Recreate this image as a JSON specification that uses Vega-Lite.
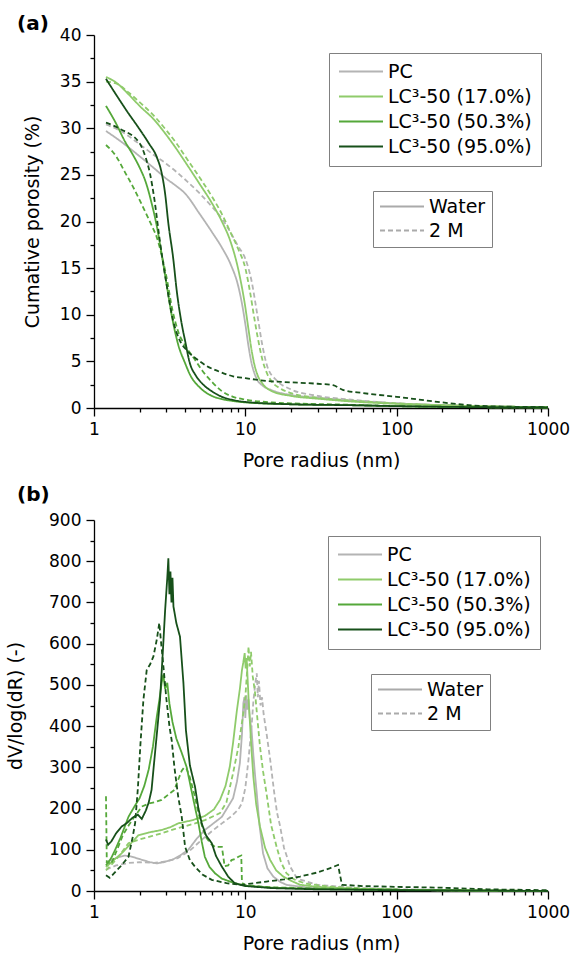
{
"$schema": "https://vega.github.io/schema/vega-lite/v6.json",
"background": "white",
"padding": {"left": 6, "top": 14, "right": 5, "bottom": 0},
"bounds": "flush",
"spacing": 112,
"resolve": {"scale": {"color": "independent", "strokeDash": "independent"}, "legend": {"color": "independent", "strokeDash": "independent"}},
"config": {
 "font": "DejaVu Sans",
 "view": {"stroke": null},
 "axis": {"grid": false, "domainColor": "#000", "tickColor": "#000", "labelColor": "#000", "titleColor": "#000", "labelFont": "DejaVu Sans", "titleFont": "DejaVu Sans", "labelFontSize": 17, "titleFontSize": 19, "titleFontWeight": "normal", "tickSize": 8, "labelPadding": 5, "domainWidth": 1.3, "tickWidth": 1.3, "labelFlush": false, "labelOverlap": false},
 "legend": {"strokeColor": "#808080", "fillColor": "#ffffff", "padding": 9, "labelFont": "DejaVu Sans", "labelFontSize": 19, "labelColor": "#000", "symbolType": "stroke", "symbolSize": 1936, "symbolStrokeWidth": 2, "clipHeight": 19, "rowPadding": 5, "labelOffset": 4, "orient": "none"},
 "title": {"font": "DejaVu Sans", "fontSize": 20, "fontWeight": "bold", "anchor": "start", "frame": "group", "color": "#000"}
},
"datasets": {
"a": [
{"x":1.2,"y":29.7,"m":"PC","c":"Water"},{"x":1.5,"y":28.6,"m":"PC","c":"Water"},{"x":2,"y":27.0,"m":"PC","c":"Water"},{"x":2.5,"y":25.7,"m":"PC","c":"Water"},{"x":3,"y":24.6,"m":"PC","c":"Water"},{"x":3.5,"y":23.8,"m":"PC","c":"Water"},{"x":4,"y":23.0,"m":"PC","c":"Water"},{"x":5,"y":20.8,"m":"PC","c":"Water"},{"x":6,"y":18.9,"m":"PC","c":"Water"},{"x":7,"y":17.2,"m":"PC","c":"Water"},{"x":8,"y":15.4,"m":"PC","c":"Water"},{"x":9,"y":13.0,"m":"PC","c":"Water"},{"x":9.5,"y":11.2,"m":"PC","c":"Water"},{"x":10,"y":9.0,"m":"PC","c":"Water"},{"x":10.5,"y":6.6,"m":"PC","c":"Water"},{"x":11,"y":4.8,"m":"PC","c":"Water"},{"x":11.5,"y":3.7,"m":"PC","c":"Water"},{"x":12,"y":3.0,"m":"PC","c":"Water"},{"x":13,"y":2.4,"m":"PC","c":"Water"},{"x":15,"y":1.9,"m":"PC","c":"Water"},{"x":20,"y":1.4,"m":"PC","c":"Water"},{"x":30,"y":1.1,"m":"PC","c":"Water"},{"x":50,"y":0.8,"m":"PC","c":"Water"},{"x":100,"y":0.5,"m":"PC","c":"Water"},{"x":200,"y":0.3,"m":"PC","c":"Water"},{"x":500,"y":0.15,"m":"PC","c":"Water"},{"x":1000,"y":0.1,"m":"PC","c":"Water"},
{"x":1.2,"y":30.4,"m":"PC","c":"2 M"},{"x":1.5,"y":29.7,"m":"PC","c":"2 M"},{"x":2,"y":28.3,"m":"PC","c":"2 M"},{"x":2.5,"y":27.1,"m":"PC","c":"2 M"},{"x":3,"y":26.2,"m":"PC","c":"2 M"},{"x":4,"y":24.5,"m":"PC","c":"2 M"},{"x":5,"y":23.0,"m":"PC","c":"2 M"},{"x":6,"y":21.6,"m":"PC","c":"2 M"},{"x":7,"y":20.3,"m":"PC","c":"2 M"},{"x":8,"y":18.8,"m":"PC","c":"2 M"},{"x":9,"y":17.3,"m":"PC","c":"2 M"},{"x":10,"y":16.0,"m":"PC","c":"2 M"},{"x":11,"y":13.6,"m":"PC","c":"2 M"},{"x":12,"y":10.0,"m":"PC","c":"2 M"},{"x":13,"y":6.6,"m":"PC","c":"2 M"},{"x":14,"y":4.4,"m":"PC","c":"2 M"},{"x":16,"y":3.0,"m":"PC","c":"2 M"},{"x":20,"y":2.0,"m":"PC","c":"2 M"},{"x":30,"y":1.3,"m":"PC","c":"2 M"},{"x":50,"y":0.9,"m":"PC","c":"2 M"},{"x":100,"y":0.5,"m":"PC","c":"2 M"},{"x":200,"y":0.3,"m":"PC","c":"2 M"},{"x":500,"y":0.15,"m":"PC","c":"2 M"},{"x":1000,"y":0.1,"m":"PC","c":"2 M"},
{"x":1.2,"y":35.5,"m":"LC³-50 (17.0%)","c":"Water"},{"x":1.4,"y":34.9,"m":"LC³-50 (17.0%)","c":"Water"},{"x":1.7,"y":33.6,"m":"LC³-50 (17.0%)","c":"Water"},{"x":2,"y":32.4,"m":"LC³-50 (17.0%)","c":"Water"},{"x":2.5,"y":30.9,"m":"LC³-50 (17.0%)","c":"Water"},{"x":3,"y":29.3,"m":"LC³-50 (17.0%)","c":"Water"},{"x":3.5,"y":27.8,"m":"LC³-50 (17.0%)","c":"Water"},{"x":4,"y":26.4,"m":"LC³-50 (17.0%)","c":"Water"},{"x":5,"y":24.0,"m":"LC³-50 (17.0%)","c":"Water"},{"x":6,"y":22.0,"m":"LC³-50 (17.0%)","c":"Water"},{"x":7,"y":20.0,"m":"LC³-50 (17.0%)","c":"Water"},{"x":8,"y":17.8,"m":"LC³-50 (17.0%)","c":"Water"},{"x":9,"y":14.8,"m":"LC³-50 (17.0%)","c":"Water"},{"x":10,"y":10.8,"m":"LC³-50 (17.0%)","c":"Water"},{"x":10.5,"y":8.4,"m":"LC³-50 (17.0%)","c":"Water"},{"x":11,"y":6.2,"m":"LC³-50 (17.0%)","c":"Water"},{"x":11.5,"y":4.6,"m":"LC³-50 (17.0%)","c":"Water"},{"x":12,"y":3.6,"m":"LC³-50 (17.0%)","c":"Water"},{"x":13,"y":2.6,"m":"LC³-50 (17.0%)","c":"Water"},{"x":15,"y":1.8,"m":"LC³-50 (17.0%)","c":"Water"},{"x":20,"y":1.3,"m":"LC³-50 (17.0%)","c":"Water"},{"x":30,"y":1.0,"m":"LC³-50 (17.0%)","c":"Water"},{"x":50,"y":0.7,"m":"LC³-50 (17.0%)","c":"Water"},{"x":100,"y":0.45,"m":"LC³-50 (17.0%)","c":"Water"},{"x":200,"y":0.3,"m":"LC³-50 (17.0%)","c":"Water"},{"x":500,"y":0.15,"m":"LC³-50 (17.0%)","c":"Water"},{"x":1000,"y":0.1,"m":"LC³-50 (17.0%)","c":"Water"},
{"x":1.2,"y":35.0,"m":"LC³-50 (17.0%)","c":"2 M"},{"x":1.4,"y":34.8,"m":"LC³-50 (17.0%)","c":"2 M"},{"x":1.7,"y":33.8,"m":"LC³-50 (17.0%)","c":"2 M"},{"x":2,"y":32.8,"m":"LC³-50 (17.0%)","c":"2 M"},{"x":2.5,"y":31.3,"m":"LC³-50 (17.0%)","c":"2 M"},{"x":3,"y":29.8,"m":"LC³-50 (17.0%)","c":"2 M"},{"x":3.5,"y":28.4,"m":"LC³-50 (17.0%)","c":"2 M"},{"x":4,"y":27.0,"m":"LC³-50 (17.0%)","c":"2 M"},{"x":5,"y":24.7,"m":"LC³-50 (17.0%)","c":"2 M"},{"x":6,"y":22.7,"m":"LC³-50 (17.0%)","c":"2 M"},{"x":7,"y":20.8,"m":"LC³-50 (17.0%)","c":"2 M"},{"x":8,"y":18.8,"m":"LC³-50 (17.0%)","c":"2 M"},{"x":9,"y":17.0,"m":"LC³-50 (17.0%)","c":"2 M"},{"x":10,"y":15.0,"m":"LC³-50 (17.0%)","c":"2 M"},{"x":10.7,"y":12.6,"m":"LC³-50 (17.0%)","c":"2 M"},{"x":11.5,"y":9.5,"m":"LC³-50 (17.0%)","c":"2 M"},{"x":12,"y":7.8,"m":"LC³-50 (17.0%)","c":"2 M"},{"x":13,"y":5.1,"m":"LC³-50 (17.0%)","c":"2 M"},{"x":14,"y":3.6,"m":"LC³-50 (17.0%)","c":"2 M"},{"x":15,"y":2.8,"m":"LC³-50 (17.0%)","c":"2 M"},{"x":17,"y":2.1,"m":"LC³-50 (17.0%)","c":"2 M"},{"x":20,"y":1.6,"m":"LC³-50 (17.0%)","c":"2 M"},{"x":30,"y":1.1,"m":"LC³-50 (17.0%)","c":"2 M"},{"x":50,"y":0.8,"m":"LC³-50 (17.0%)","c":"2 M"},{"x":100,"y":0.5,"m":"LC³-50 (17.0%)","c":"2 M"},{"x":200,"y":0.3,"m":"LC³-50 (17.0%)","c":"2 M"},{"x":500,"y":0.15,"m":"LC³-50 (17.0%)","c":"2 M"},{"x":1000,"y":0.1,"m":"LC³-50 (17.0%)","c":"2 M"},
{"x":1.2,"y":32.4,"m":"LC³-50 (50.3%)","c":"Water"},{"x":1.4,"y":30.5,"m":"LC³-50 (50.3%)","c":"Water"},{"x":1.6,"y":28.6,"m":"LC³-50 (50.3%)","c":"Water"},{"x":1.8,"y":27.2,"m":"LC³-50 (50.3%)","c":"Water"},{"x":2,"y":25.8,"m":"LC³-50 (50.3%)","c":"Water"},{"x":2.2,"y":24.2,"m":"LC³-50 (50.3%)","c":"Water"},{"x":2.4,"y":22.0,"m":"LC³-50 (50.3%)","c":"Water"},{"x":2.6,"y":19.5,"m":"LC³-50 (50.3%)","c":"Water"},{"x":2.8,"y":16.5,"m":"LC³-50 (50.3%)","c":"Water"},{"x":3,"y":13.5,"m":"LC³-50 (50.3%)","c":"Water"},{"x":3.3,"y":9.5,"m":"LC³-50 (50.3%)","c":"Water"},{"x":3.6,"y":6.8,"m":"LC³-50 (50.3%)","c":"Water"},{"x":4,"y":4.8,"m":"LC³-50 (50.3%)","c":"Water"},{"x":4.3,"y":3.6,"m":"LC³-50 (50.3%)","c":"Water"},{"x":5,"y":2.2,"m":"LC³-50 (50.3%)","c":"Water"},{"x":6,"y":1.3,"m":"LC³-50 (50.3%)","c":"Water"},{"x":7,"y":0.95,"m":"LC³-50 (50.3%)","c":"Water"},{"x":8.3,"y":0.75,"m":"LC³-50 (50.3%)","c":"Water"},{"x":10,"y":0.6,"m":"LC³-50 (50.3%)","c":"Water"},{"x":20,"y":0.4,"m":"LC³-50 (50.3%)","c":"Water"},{"x":50,"y":0.3,"m":"LC³-50 (50.3%)","c":"Water"},{"x":100,"y":0.2,"m":"LC³-50 (50.3%)","c":"Water"},{"x":300,"y":0.1,"m":"LC³-50 (50.3%)","c":"Water"},{"x":1000,"y":0.05,"m":"LC³-50 (50.3%)","c":"Water"},
{"x":1.2,"y":28.2,"m":"LC³-50 (50.3%)","c":"2 M"},{"x":1.4,"y":27.0,"m":"LC³-50 (50.3%)","c":"2 M"},{"x":1.6,"y":25.3,"m":"LC³-50 (50.3%)","c":"2 M"},{"x":1.8,"y":23.8,"m":"LC³-50 (50.3%)","c":"2 M"},{"x":2.1,"y":21.6,"m":"LC³-50 (50.3%)","c":"2 M"},{"x":2.4,"y":19.6,"m":"LC³-50 (50.3%)","c":"2 M"},{"x":2.6,"y":18.3,"m":"LC³-50 (50.3%)","c":"2 M"},{"x":2.8,"y":16.4,"m":"LC³-50 (50.3%)","c":"2 M"},{"x":3,"y":14.2,"m":"LC³-50 (50.3%)","c":"2 M"},{"x":3.3,"y":10.5,"m":"LC³-50 (50.3%)","c":"2 M"},{"x":3.6,"y":8.2,"m":"LC³-50 (50.3%)","c":"2 M"},{"x":4,"y":6.7,"m":"LC³-50 (50.3%)","c":"2 M"},{"x":4.5,"y":5.5,"m":"LC³-50 (50.3%)","c":"2 M"},{"x":5.2,"y":4.0,"m":"LC³-50 (50.3%)","c":"2 M"},{"x":6.1,"y":2.7,"m":"LC³-50 (50.3%)","c":"2 M"},{"x":7,"y":1.8,"m":"LC³-50 (50.3%)","c":"2 M"},{"x":8.3,"y":1.2,"m":"LC³-50 (50.3%)","c":"2 M"},{"x":10,"y":0.9,"m":"LC³-50 (50.3%)","c":"2 M"},{"x":15,"y":0.6,"m":"LC³-50 (50.3%)","c":"2 M"},{"x":20,"y":0.5,"m":"LC³-50 (50.3%)","c":"2 M"},{"x":50,"y":0.35,"m":"LC³-50 (50.3%)","c":"2 M"},{"x":100,"y":0.2,"m":"LC³-50 (50.3%)","c":"2 M"},{"x":300,"y":0.1,"m":"LC³-50 (50.3%)","c":"2 M"},{"x":1000,"y":0.05,"m":"LC³-50 (50.3%)","c":"2 M"},
{"x":1.2,"y":35.3,"m":"LC³-50 (95.0%)","c":"Water"},{"x":1.4,"y":33.6,"m":"LC³-50 (95.0%)","c":"Water"},{"x":1.64,"y":31.9,"m":"LC³-50 (95.0%)","c":"Water"},{"x":2,"y":29.9,"m":"LC³-50 (95.0%)","c":"Water"},{"x":2.3,"y":28.4,"m":"LC³-50 (95.0%)","c":"Water"},{"x":2.6,"y":26.9,"m":"LC³-50 (95.0%)","c":"Water"},{"x":2.8,"y":25.2,"m":"LC³-50 (95.0%)","c":"Water"},{"x":2.95,"y":23.0,"m":"LC³-50 (95.0%)","c":"Water"},{"x":3.1,"y":19.8,"m":"LC³-50 (95.0%)","c":"Water"},{"x":3.34,"y":16.0,"m":"LC³-50 (95.0%)","c":"Water"},{"x":3.52,"y":12.6,"m":"LC³-50 (95.0%)","c":"Water"},{"x":3.8,"y":9.0,"m":"LC³-50 (95.0%)","c":"Water"},{"x":4.0,"y":7.2,"m":"LC³-50 (95.0%)","c":"Water"},{"x":4.3,"y":4.8,"m":"LC³-50 (95.0%)","c":"Water"},{"x":4.7,"y":3.5,"m":"LC³-50 (95.0%)","c":"Water"},{"x":5.2,"y":2.6,"m":"LC³-50 (95.0%)","c":"Water"},{"x":6,"y":1.8,"m":"LC³-50 (95.0%)","c":"Water"},{"x":7,"y":1.2,"m":"LC³-50 (95.0%)","c":"Water"},{"x":8.3,"y":0.86,"m":"LC³-50 (95.0%)","c":"Water"},{"x":10,"y":0.65,"m":"LC³-50 (95.0%)","c":"Water"},{"x":20,"y":0.4,"m":"LC³-50 (95.0%)","c":"Water"},{"x":50,"y":0.3,"m":"LC³-50 (95.0%)","c":"Water"},{"x":100,"y":0.2,"m":"LC³-50 (95.0%)","c":"Water"},{"x":300,"y":0.1,"m":"LC³-50 (95.0%)","c":"Water"},{"x":1000,"y":0.05,"m":"LC³-50 (95.0%)","c":"Water"},
{"x":1.2,"y":30.6,"m":"LC³-50 (95.0%)","c":"2 M"},{"x":1.5,"y":29.9,"m":"LC³-50 (95.0%)","c":"2 M"},{"x":2,"y":28.4,"m":"LC³-50 (95.0%)","c":"2 M"},{"x":2.2,"y":26.8,"m":"LC³-50 (95.0%)","c":"2 M"},{"x":2.34,"y":25.2,"m":"LC³-50 (95.0%)","c":"2 M"},{"x":2.5,"y":22.5,"m":"LC³-50 (95.0%)","c":"2 M"},{"x":2.73,"y":17.8,"m":"LC³-50 (95.0%)","c":"2 M"},{"x":3,"y":13.5,"m":"LC³-50 (95.0%)","c":"2 M"},{"x":3.33,"y":9.4,"m":"LC³-50 (95.0%)","c":"2 M"},{"x":3.7,"y":7.2,"m":"LC³-50 (95.0%)","c":"2 M"},{"x":4.1,"y":6.2,"m":"LC³-50 (95.0%)","c":"2 M"},{"x":5,"y":5.0,"m":"LC³-50 (95.0%)","c":"2 M"},{"x":5.55,"y":4.5,"m":"LC³-50 (95.0%)","c":"2 M"},{"x":6.5,"y":4.0,"m":"LC³-50 (95.0%)","c":"2 M"},{"x":8.3,"y":3.4,"m":"LC³-50 (95.0%)","c":"2 M"},{"x":10,"y":3.2,"m":"LC³-50 (95.0%)","c":"2 M"},{"x":13.8,"y":2.9,"m":"LC³-50 (95.0%)","c":"2 M"},{"x":20,"y":2.75,"m":"LC³-50 (95.0%)","c":"2 M"},{"x":30,"y":2.6,"m":"LC³-50 (95.0%)","c":"2 M"},{"x":38,"y":2.45,"m":"LC³-50 (95.0%)","c":"2 M"},{"x":44,"y":1.95,"m":"LC³-50 (95.0%)","c":"2 M"},{"x":60,"y":1.6,"m":"LC³-50 (95.0%)","c":"2 M"},{"x":100,"y":1.2,"m":"LC³-50 (95.0%)","c":"2 M"},{"x":200,"y":0.6,"m":"LC³-50 (95.0%)","c":"2 M"},{"x":300,"y":0.3,"m":"LC³-50 (95.0%)","c":"2 M"},{"x":500,"y":0.15,"m":"LC³-50 (95.0%)","c":"2 M"},{"x":1000,"y":0.1,"m":"LC³-50 (95.0%)","c":"2 M"}
],
"b": [
{"x":1.2,"y":68,"m":"PC","c":"Water"},{"x":1.3,"y":75,"m":"PC","c":"Water"},{"x":1.45,"y":82,"m":"PC","c":"Water"},{"x":1.6,"y":86,"m":"PC","c":"Water"},{"x":1.75,"y":84,"m":"PC","c":"Water"},{"x":1.9,"y":80,"m":"PC","c":"Water"},{"x":2.1,"y":75,"m":"PC","c":"Water"},{"x":2.34,"y":70,"m":"PC","c":"Water"},{"x":2.6,"y":67,"m":"PC","c":"Water"},{"x":2.9,"y":70,"m":"PC","c":"Water"},{"x":3.3,"y":76,"m":"PC","c":"Water"},{"x":3.7,"y":86,"m":"PC","c":"Water"},{"x":4.2,"y":100,"m":"PC","c":"Water"},{"x":4.8,"y":128,"m":"PC","c":"Water"},{"x":5.4,"y":148,"m":"PC","c":"Water"},{"x":6.2,"y":165,"m":"PC","c":"Water"},{"x":7,"y":180,"m":"PC","c":"Water"},{"x":7.7,"y":205,"m":"PC","c":"Water"},{"x":8.3,"y":225,"m":"PC","c":"Water"},{"x":8.8,"y":265,"m":"PC","c":"Water"},{"x":9.2,"y":310,"m":"PC","c":"Water"},{"x":9.5,"y":380,"m":"PC","c":"Water"},{"x":9.7,"y":455,"m":"PC","c":"Water"},{"x":9.85,"y":470,"m":"PC","c":"Water"},{"x":10.0,"y":420,"m":"PC","c":"Water"},{"x":10.15,"y":475,"m":"PC","c":"Water"},{"x":10.3,"y":440,"m":"PC","c":"Water"},{"x":10.5,"y":465,"m":"PC","c":"Water"},{"x":10.7,"y":420,"m":"PC","c":"Water"},{"x":11.0,"y":390,"m":"PC","c":"Water"},{"x":11.3,"y":330,"m":"PC","c":"Water"},{"x":11.6,"y":280,"m":"PC","c":"Water"},{"x":11.9,"y":237,"m":"PC","c":"Water"},{"x":12.4,"y":160,"m":"PC","c":"Water"},{"x":13.1,"y":91,"m":"PC","c":"Water"},{"x":14,"y":55,"m":"PC","c":"Water"},{"x":15.3,"y":35,"m":"PC","c":"Water"},{"x":17,"y":22,"m":"PC","c":"Water"},{"x":18.7,"y":15,"m":"PC","c":"Water"},{"x":25,"y":9,"m":"PC","c":"Water"},{"x":40,"y":6,"m":"PC","c":"Water"},{"x":70,"y":4,"m":"PC","c":"Water"},{"x":150,"y":2,"m":"PC","c":"Water"},{"x":400,"y":1,"m":"PC","c":"Water"},{"x":1000,"y":0,"m":"PC","c":"Water"},
{"x":1.2,"y":52,"m":"PC","c":"2 M"},{"x":1.4,"y":62,"m":"PC","c":"2 M"},{"x":1.7,"y":68,"m":"PC","c":"2 M"},{"x":2,"y":70,"m":"PC","c":"2 M"},{"x":2.5,"y":68,"m":"PC","c":"2 M"},{"x":3,"y":72,"m":"PC","c":"2 M"},{"x":3.6,"y":80,"m":"PC","c":"2 M"},{"x":4.3,"y":98,"m":"PC","c":"2 M"},{"x":5.15,"y":124,"m":"PC","c":"2 M"},{"x":6,"y":145,"m":"PC","c":"2 M"},{"x":7,"y":164,"m":"PC","c":"2 M"},{"x":8,"y":180,"m":"PC","c":"2 M"},{"x":9,"y":198,"m":"PC","c":"2 M"},{"x":9.5,"y":213,"m":"PC","c":"2 M"},{"x":10,"y":250,"m":"PC","c":"2 M"},{"x":10.5,"y":320,"m":"PC","c":"2 M"},{"x":11,"y":400,"m":"PC","c":"2 M"},{"x":11.3,"y":460,"m":"PC","c":"2 M"},{"x":11.6,"y":500,"m":"PC","c":"2 M"},{"x":11.9,"y":528,"m":"PC","c":"2 M"},{"x":12.1,"y":470,"m":"PC","c":"2 M"},{"x":12.3,"y":510,"m":"PC","c":"2 M"},{"x":12.6,"y":450,"m":"PC","c":"2 M"},{"x":12.9,"y":470,"m":"PC","c":"2 M"},{"x":13.2,"y":430,"m":"PC","c":"2 M"},{"x":13.8,"y":383,"m":"PC","c":"2 M"},{"x":14.6,"y":318,"m":"PC","c":"2 M"},{"x":15.5,"y":240,"m":"PC","c":"2 M"},{"x":16.2,"y":190,"m":"PC","c":"2 M"},{"x":17,"y":156,"m":"PC","c":"2 M"},{"x":18,"y":105,"m":"PC","c":"2 M"},{"x":19.8,"y":59,"m":"PC","c":"2 M"},{"x":22,"y":30,"m":"PC","c":"2 M"},{"x":30,"y":15,"m":"PC","c":"2 M"},{"x":50,"y":8,"m":"PC","c":"2 M"},{"x":100,"y":4,"m":"PC","c":"2 M"},{"x":300,"y":2,"m":"PC","c":"2 M"},{"x":1000,"y":0,"m":"PC","c":"2 M"},
{"x":1.2,"y":58,"m":"LC³-50 (17.0%)","c":"Water"},{"x":1.35,"y":75,"m":"LC³-50 (17.0%)","c":"Water"},{"x":1.52,"y":91,"m":"LC³-50 (17.0%)","c":"Water"},{"x":1.7,"y":110,"m":"LC³-50 (17.0%)","c":"Water"},{"x":1.96,"y":135,"m":"LC³-50 (17.0%)","c":"Water"},{"x":2.3,"y":142,"m":"LC³-50 (17.0%)","c":"Water"},{"x":2.8,"y":148,"m":"LC³-50 (17.0%)","c":"Water"},{"x":3.2,"y":155,"m":"LC³-50 (17.0%)","c":"Water"},{"x":3.6,"y":164,"m":"LC³-50 (17.0%)","c":"Water"},{"x":4.5,"y":172,"m":"LC³-50 (17.0%)","c":"Water"},{"x":5.4,"y":182,"m":"LC³-50 (17.0%)","c":"Water"},{"x":6.2,"y":198,"m":"LC³-50 (17.0%)","c":"Water"},{"x":6.8,"y":221,"m":"LC³-50 (17.0%)","c":"Water"},{"x":7.4,"y":255,"m":"LC³-50 (17.0%)","c":"Water"},{"x":7.9,"y":302,"m":"LC³-50 (17.0%)","c":"Water"},{"x":8.3,"y":360,"m":"LC³-50 (17.0%)","c":"Water"},{"x":8.8,"y":439,"m":"LC³-50 (17.0%)","c":"Water"},{"x":9.2,"y":490,"m":"LC³-50 (17.0%)","c":"Water"},{"x":9.5,"y":536,"m":"LC³-50 (17.0%)","c":"Water"},{"x":9.7,"y":555,"m":"LC³-50 (17.0%)","c":"Water"},{"x":9.9,"y":577,"m":"LC³-50 (17.0%)","c":"Water"},{"x":10.05,"y":540,"m":"LC³-50 (17.0%)","c":"Water"},{"x":10.2,"y":565,"m":"LC³-50 (17.0%)","c":"Water"},{"x":10.4,"y":500,"m":"LC³-50 (17.0%)","c":"Water"},{"x":10.6,"y":440,"m":"LC³-50 (17.0%)","c":"Water"},{"x":11.0,"y":340,"m":"LC³-50 (17.0%)","c":"Water"},{"x":11.3,"y":277,"m":"LC³-50 (17.0%)","c":"Water"},{"x":11.8,"y":210,"m":"LC³-50 (17.0%)","c":"Water"},{"x":12.5,"y":156,"m":"LC³-50 (17.0%)","c":"Water"},{"x":13.5,"y":105,"m":"LC³-50 (17.0%)","c":"Water"},{"x":14.6,"y":75,"m":"LC³-50 (17.0%)","c":"Water"},{"x":16,"y":50,"m":"LC³-50 (17.0%)","c":"Water"},{"x":17.8,"y":35,"m":"LC³-50 (17.0%)","c":"Water"},{"x":20,"y":25,"m":"LC³-50 (17.0%)","c":"Water"},{"x":23,"y":15,"m":"LC³-50 (17.0%)","c":"Water"},{"x":30,"y":10,"m":"LC³-50 (17.0%)","c":"Water"},{"x":50,"y":6,"m":"LC³-50 (17.0%)","c":"Water"},{"x":100,"y":3,"m":"LC³-50 (17.0%)","c":"Water"},{"x":300,"y":1.5,"m":"LC³-50 (17.0%)","c":"Water"},{"x":1000,"y":0,"m":"LC³-50 (17.0%)","c":"Water"},
{"x":1.2,"y":50,"m":"LC³-50 (17.0%)","c":"2 M"},{"x":1.35,"y":70,"m":"LC³-50 (17.0%)","c":"2 M"},{"x":1.5,"y":90,"m":"LC³-50 (17.0%)","c":"2 M"},{"x":1.69,"y":116,"m":"LC³-50 (17.0%)","c":"2 M"},{"x":2,"y":125,"m":"LC³-50 (17.0%)","c":"2 M"},{"x":2.4,"y":133,"m":"LC³-50 (17.0%)","c":"2 M"},{"x":2.8,"y":140,"m":"LC³-50 (17.0%)","c":"2 M"},{"x":3.4,"y":150,"m":"LC³-50 (17.0%)","c":"2 M"},{"x":4,"y":157,"m":"LC³-50 (17.0%)","c":"2 M"},{"x":4.65,"y":164,"m":"LC³-50 (17.0%)","c":"2 M"},{"x":5.4,"y":172,"m":"LC³-50 (17.0%)","c":"2 M"},{"x":6.2,"y":182,"m":"LC³-50 (17.0%)","c":"2 M"},{"x":6.8,"y":189,"m":"LC³-50 (17.0%)","c":"2 M"},{"x":7.5,"y":215,"m":"LC³-50 (17.0%)","c":"2 M"},{"x":8.3,"y":286,"m":"LC³-50 (17.0%)","c":"2 M"},{"x":9,"y":350,"m":"LC³-50 (17.0%)","c":"2 M"},{"x":9.6,"y":420,"m":"LC³-50 (17.0%)","c":"2 M"},{"x":10.0,"y":470,"m":"LC³-50 (17.0%)","c":"2 M"},{"x":10.3,"y":540,"m":"LC³-50 (17.0%)","c":"2 M"},{"x":10.5,"y":593,"m":"LC³-50 (17.0%)","c":"2 M"},{"x":10.7,"y":545,"m":"LC³-50 (17.0%)","c":"2 M"},{"x":10.9,"y":580,"m":"LC³-50 (17.0%)","c":"2 M"},{"x":11.2,"y":520,"m":"LC³-50 (17.0%)","c":"2 M"},{"x":11.6,"y":480,"m":"LC³-50 (17.0%)","c":"2 M"},{"x":12,"y":420,"m":"LC³-50 (17.0%)","c":"2 M"},{"x":12.5,"y":350,"m":"LC³-50 (17.0%)","c":"2 M"},{"x":13.1,"y":290,"m":"LC³-50 (17.0%)","c":"2 M"},{"x":13.8,"y":237,"m":"LC³-50 (17.0%)","c":"2 M"},{"x":14.8,"y":160,"m":"LC³-50 (17.0%)","c":"2 M"},{"x":16.1,"y":107,"m":"LC³-50 (17.0%)","c":"2 M"},{"x":17.2,"y":70,"m":"LC³-50 (17.0%)","c":"2 M"},{"x":18.7,"y":43,"m":"LC³-50 (17.0%)","c":"2 M"},{"x":21,"y":28,"m":"LC³-50 (17.0%)","c":"2 M"},{"x":25,"y":18,"m":"LC³-50 (17.0%)","c":"2 M"},{"x":35,"y":11,"m":"LC³-50 (17.0%)","c":"2 M"},{"x":60,"y":6,"m":"LC³-50 (17.0%)","c":"2 M"},{"x":100,"y":3,"m":"LC³-50 (17.0%)","c":"2 M"},{"x":300,"y":1.5,"m":"LC³-50 (17.0%)","c":"2 M"},{"x":1000,"y":0,"m":"LC³-50 (17.0%)","c":"2 M"},
{"x":1.2,"y":62,"m":"LC³-50 (50.3%)","c":"Water"},{"x":1.3,"y":80,"m":"LC³-50 (50.3%)","c":"Water"},{"x":1.38,"y":100,"m":"LC³-50 (50.3%)","c":"Water"},{"x":1.5,"y":130,"m":"LC³-50 (50.3%)","c":"Water"},{"x":1.69,"y":180,"m":"LC³-50 (50.3%)","c":"Water"},{"x":1.85,"y":205,"m":"LC³-50 (50.3%)","c":"Water"},{"x":2.0,"y":225,"m":"LC³-50 (50.3%)","c":"Water"},{"x":2.15,"y":255,"m":"LC³-50 (50.3%)","c":"Water"},{"x":2.3,"y":295,"m":"LC³-50 (50.3%)","c":"Water"},{"x":2.45,"y":350,"m":"LC³-50 (50.3%)","c":"Water"},{"x":2.6,"y":423,"m":"LC³-50 (50.3%)","c":"Water"},{"x":2.72,"y":470,"m":"LC³-50 (50.3%)","c":"Water"},{"x":2.8,"y":505,"m":"LC³-50 (50.3%)","c":"Water"},{"x":2.87,"y":525,"m":"LC³-50 (50.3%)","c":"Water"},{"x":2.95,"y":490,"m":"LC³-50 (50.3%)","c":"Water"},{"x":3.05,"y":505,"m":"LC³-50 (50.3%)","c":"Water"},{"x":3.15,"y":455,"m":"LC³-50 (50.3%)","c":"Water"},{"x":3.3,"y":410,"m":"LC³-50 (50.3%)","c":"Water"},{"x":3.5,"y":370,"m":"LC³-50 (50.3%)","c":"Water"},{"x":3.8,"y":335,"m":"LC³-50 (50.3%)","c":"Water"},{"x":4.1,"y":300,"m":"LC³-50 (50.3%)","c":"Water"},{"x":4.4,"y":245,"m":"LC³-50 (50.3%)","c":"Water"},{"x":4.7,"y":195,"m":"LC³-50 (50.3%)","c":"Water"},{"x":4.9,"y":164,"m":"LC³-50 (50.3%)","c":"Water"},{"x":5.15,"y":120,"m":"LC³-50 (50.3%)","c":"Water"},{"x":5.4,"y":83,"m":"LC³-50 (50.3%)","c":"Water"},{"x":5.8,"y":58,"m":"LC³-50 (50.3%)","c":"Water"},{"x":6.3,"y":43,"m":"LC³-50 (50.3%)","c":"Water"},{"x":7,"y":30,"m":"LC³-50 (50.3%)","c":"Water"},{"x":8.5,"y":19,"m":"LC³-50 (50.3%)","c":"Water"},{"x":10,"y":13,"m":"LC³-50 (50.3%)","c":"Water"},{"x":15,"y":8,"m":"LC³-50 (50.3%)","c":"Water"},{"x":30,"y":5,"m":"LC³-50 (50.3%)","c":"Water"},{"x":100,"y":3,"m":"LC³-50 (50.3%)","c":"Water"},{"x":300,"y":1,"m":"LC³-50 (50.3%)","c":"Water"},{"x":1000,"y":0,"m":"LC³-50 (50.3%)","c":"Water"},
{"x":1.2,"y":230,"m":"LC³-50 (50.3%)","c":"2 M"},{"x":1.215,"y":70,"m":"LC³-50 (50.3%)","c":"2 M"},{"x":1.3,"y":66,"m":"LC³-50 (50.3%)","c":"2 M"},{"x":1.42,"y":100,"m":"LC³-50 (50.3%)","c":"2 M"},{"x":1.55,"y":135,"m":"LC³-50 (50.3%)","c":"2 M"},{"x":1.7,"y":160,"m":"LC³-50 (50.3%)","c":"2 M"},{"x":1.85,"y":180,"m":"LC³-50 (50.3%)","c":"2 M"},{"x":2.07,"y":205,"m":"LC³-50 (50.3%)","c":"2 M"},{"x":2.3,"y":212,"m":"LC³-50 (50.3%)","c":"2 M"},{"x":2.5,"y":215,"m":"LC³-50 (50.3%)","c":"2 M"},{"x":2.8,"y":221,"m":"LC³-50 (50.3%)","c":"2 M"},{"x":3.1,"y":234,"m":"LC³-50 (50.3%)","c":"2 M"},{"x":3.4,"y":245,"m":"LC³-50 (50.3%)","c":"2 M"},{"x":3.6,"y":270,"m":"LC³-50 (50.3%)","c":"2 M"},{"x":3.8,"y":292,"m":"LC³-50 (50.3%)","c":"2 M"},{"x":3.95,"y":300,"m":"LC³-50 (50.3%)","c":"2 M"},{"x":4.1,"y":296,"m":"LC³-50 (50.3%)","c":"2 M"},{"x":4.3,"y":275,"m":"LC³-50 (50.3%)","c":"2 M"},{"x":4.6,"y":235,"m":"LC³-50 (50.3%)","c":"2 M"},{"x":4.9,"y":190,"m":"LC³-50 (50.3%)","c":"2 M"},{"x":5.2,"y":155,"m":"LC³-50 (50.3%)","c":"2 M"},{"x":5.5,"y":130,"m":"LC³-50 (50.3%)","c":"2 M"},{"x":5.9,"y":115,"m":"LC³-50 (50.3%)","c":"2 M"},{"x":6.3,"y":107,"m":"LC³-50 (50.3%)","c":"2 M"},{"x":7.0,"y":107,"m":"LC³-50 (50.3%)","c":"2 M"},{"x":7.3,"y":60,"m":"LC³-50 (50.3%)","c":"2 M"},{"x":7.7,"y":62,"m":"LC³-50 (50.3%)","c":"2 M"},{"x":8.1,"y":75,"m":"LC³-50 (50.3%)","c":"2 M"},{"x":8.6,"y":78,"m":"LC³-50 (50.3%)","c":"2 M"},{"x":9.0,"y":83,"m":"LC³-50 (50.3%)","c":"2 M"},{"x":9.4,"y":86,"m":"LC³-50 (50.3%)","c":"2 M"},{"x":9.5,"y":20,"m":"LC³-50 (50.3%)","c":"2 M"},{"x":10,"y":14,"m":"LC³-50 (50.3%)","c":"2 M"},{"x":15,"y":9,"m":"LC³-50 (50.3%)","c":"2 M"},{"x":30,"y":6,"m":"LC³-50 (50.3%)","c":"2 M"},{"x":100,"y":3,"m":"LC³-50 (50.3%)","c":"2 M"},{"x":300,"y":1,"m":"LC³-50 (50.3%)","c":"2 M"},{"x":1000,"y":0,"m":"LC³-50 (50.3%)","c":"2 M"},
{"x":1.2,"y":125,"m":"LC³-50 (95.0%)","c":"Water"},{"x":1.24,"y":112,"m":"LC³-50 (95.0%)","c":"Water"},{"x":1.3,"y":120,"m":"LC³-50 (95.0%)","c":"Water"},{"x":1.4,"y":140,"m":"LC³-50 (95.0%)","c":"Water"},{"x":1.52,"y":156,"m":"LC³-50 (95.0%)","c":"Water"},{"x":1.65,"y":165,"m":"LC³-50 (95.0%)","c":"Water"},{"x":1.8,"y":178,"m":"LC³-50 (95.0%)","c":"Water"},{"x":1.95,"y":185,"m":"LC³-50 (95.0%)","c":"Water"},{"x":2.07,"y":175,"m":"LC³-50 (95.0%)","c":"Water"},{"x":2.2,"y":195,"m":"LC³-50 (95.0%)","c":"Water"},{"x":2.3,"y":215,"m":"LC³-50 (95.0%)","c":"Water"},{"x":2.4,"y":245,"m":"LC³-50 (95.0%)","c":"Water"},{"x":2.47,"y":294,"m":"LC³-50 (95.0%)","c":"Water"},{"x":2.6,"y":380,"m":"LC³-50 (95.0%)","c":"Water"},{"x":2.73,"y":463,"m":"LC³-50 (95.0%)","c":"Water"},{"x":2.85,"y":580,"m":"LC³-50 (95.0%)","c":"Water"},{"x":2.95,"y":680,"m":"LC³-50 (95.0%)","c":"Water"},{"x":3.05,"y":760,"m":"LC³-50 (95.0%)","c":"Water"},{"x":3.1,"y":807,"m":"LC³-50 (95.0%)","c":"Water"},{"x":3.15,"y":720,"m":"LC³-50 (95.0%)","c":"Water"},{"x":3.2,"y":775,"m":"LC³-50 (95.0%)","c":"Water"},{"x":3.25,"y":700,"m":"LC³-50 (95.0%)","c":"Water"},{"x":3.3,"y":760,"m":"LC³-50 (95.0%)","c":"Water"},{"x":3.35,"y":690,"m":"LC³-50 (95.0%)","c":"Water"},{"x":3.5,"y":650,"m":"LC³-50 (95.0%)","c":"Water"},{"x":3.7,"y":617,"m":"LC³-50 (95.0%)","c":"Water"},{"x":3.9,"y":504,"m":"LC³-50 (95.0%)","c":"Water"},{"x":4.05,"y":390,"m":"LC³-50 (95.0%)","c":"Water"},{"x":4.3,"y":305,"m":"LC³-50 (95.0%)","c":"Water"},{"x":4.65,"y":253,"m":"LC³-50 (95.0%)","c":"Water"},{"x":4.9,"y":200,"m":"LC³-50 (95.0%)","c":"Water"},{"x":5.15,"y":164,"m":"LC³-50 (95.0%)","c":"Water"},{"x":5.5,"y":135,"m":"LC³-50 (95.0%)","c":"Water"},{"x":6.0,"y":116,"m":"LC³-50 (95.0%)","c":"Water"},{"x":6.4,"y":85,"m":"LC³-50 (95.0%)","c":"Water"},{"x":7.0,"y":59,"m":"LC³-50 (95.0%)","c":"Water"},{"x":7.7,"y":35,"m":"LC³-50 (95.0%)","c":"Water"},{"x":8.5,"y":19,"m":"LC³-50 (95.0%)","c":"Water"},{"x":10,"y":12,"m":"LC³-50 (95.0%)","c":"Water"},{"x":15,"y":7,"m":"LC³-50 (95.0%)","c":"Water"},{"x":30,"y":4,"m":"LC³-50 (95.0%)","c":"Water"},{"x":100,"y":2,"m":"LC³-50 (95.0%)","c":"Water"},{"x":1000,"y":0,"m":"LC³-50 (95.0%)","c":"Water"},
{"x":1.2,"y":38,"m":"LC³-50 (95.0%)","c":"2 M"},{"x":1.27,"y":32,"m":"LC³-50 (95.0%)","c":"2 M"},{"x":1.35,"y":42,"m":"LC³-50 (95.0%)","c":"2 M"},{"x":1.5,"y":60,"m":"LC³-50 (95.0%)","c":"2 M"},{"x":1.69,"y":83,"m":"LC³-50 (95.0%)","c":"2 M"},{"x":1.8,"y":130,"m":"LC³-50 (95.0%)","c":"2 M"},{"x":1.87,"y":165,"m":"LC³-50 (95.0%)","c":"2 M"},{"x":1.95,"y":250,"m":"LC³-50 (95.0%)","c":"2 M"},{"x":2.03,"y":360,"m":"LC³-50 (95.0%)","c":"2 M"},{"x":2.12,"y":463,"m":"LC³-50 (95.0%)","c":"2 M"},{"x":2.23,"y":536,"m":"LC³-50 (95.0%)","c":"2 M"},{"x":2.35,"y":550,"m":"LC³-50 (95.0%)","c":"2 M"},{"x":2.47,"y":569,"m":"LC³-50 (95.0%)","c":"2 M"},{"x":2.6,"y":610,"m":"LC³-50 (95.0%)","c":"2 M"},{"x":2.7,"y":650,"m":"LC³-50 (95.0%)","c":"2 M"},{"x":2.78,"y":600,"m":"LC³-50 (95.0%)","c":"2 M"},{"x":2.85,"y":560,"m":"LC³-50 (95.0%)","c":"2 M"},{"x":3.0,"y":470,"m":"LC³-50 (95.0%)","c":"2 M"},{"x":3.15,"y":400,"m":"LC³-50 (95.0%)","c":"2 M"},{"x":3.26,"y":366,"m":"LC³-50 (95.0%)","c":"2 M"},{"x":3.4,"y":300,"m":"LC³-50 (95.0%)","c":"2 M"},{"x":3.6,"y":229,"m":"LC³-50 (95.0%)","c":"2 M"},{"x":3.8,"y":180,"m":"LC³-50 (95.0%)","c":"2 M"},{"x":4.0,"y":107,"m":"LC³-50 (95.0%)","c":"2 M"},{"x":4.3,"y":75,"m":"LC³-50 (95.0%)","c":"2 M"},{"x":4.65,"y":59,"m":"LC³-50 (95.0%)","c":"2 M"},{"x":5.2,"y":40,"m":"LC³-50 (95.0%)","c":"2 M"},{"x":6.0,"y":27,"m":"LC³-50 (95.0%)","c":"2 M"},{"x":7.5,"y":19,"m":"LC³-50 (95.0%)","c":"2 M"},{"x":9.5,"y":15,"m":"LC³-50 (95.0%)","c":"2 M"},{"x":13.8,"y":23,"m":"LC³-50 (95.0%)","c":"2 M"},{"x":18,"y":28,"m":"LC³-50 (95.0%)","c":"2 M"},{"x":23,"y":35,"m":"LC³-50 (95.0%)","c":"2 M"},{"x":30,"y":45,"m":"LC³-50 (95.0%)","c":"2 M"},{"x":36,"y":55,"m":"LC³-50 (95.0%)","c":"2 M"},{"x":41,"y":63,"m":"LC³-50 (95.0%)","c":"2 M"},{"x":43.5,"y":15,"m":"LC³-50 (95.0%)","c":"2 M"},{"x":60,"y":12,"m":"LC³-50 (95.0%)","c":"2 M"},{"x":100,"y":10,"m":"LC³-50 (95.0%)","c":"2 M"},{"x":200,"y":8,"m":"LC³-50 (95.0%)","c":"2 M"},{"x":400,"y":4,"m":"LC³-50 (95.0%)","c":"2 M"},{"x":1000,"y":2,"m":"LC³-50 (95.0%)","c":"2 M"}
]
},
"vconcat": [
{
 "width": 454, "height": 373,
 "title": {"text": "(a)", "dx": -77, "offset": -8},
 "resolve": {"axis": {"x": "independent", "y": "independent"}},
 "layer": [
  {
   "data": {"name": "a"},
   "mark": {"type": "line", "strokeWidth": 1.8, "interpolate": "monotone"},
   "encoding": {
    "x": {"field": "x", "type": "quantitative", "scale": {"type": "log", "domain": [1, 1000], "nice": false}, "axis": {"orient": "bottom", "values": [1, 10, 100, 1000], "format": "d", "title": "Pore radius (nm)", "titlePadding": 14}},
    "y": {"field": "y", "type": "quantitative", "scale": {"domain": [0, 40], "nice": false}, "axis": {"orient": "left", "values": [0, 5, 10, 15, 20, 25, 30, 35, 40], "title": "Cumative porosity (%)", "titleX": -52}},
    "color": {"field": "m", "type": "nominal", "scale": {"domain": ["PC", "LC³-50 (17.0%)", "LC³-50 (50.3%)", "LC³-50 (95.0%)"], "range": ["#b4b4b4", "#8fcb6b", "#55a83a", "#17501a"]}, "legend": {"title": null, "legendX": 235, "legendY": 18}},
    "strokeDash": {"field": "c", "type": "nominal", "scale": {"domain": ["Water", "2 M"], "range": [[1, 0], [5, 3]]}, "legend": {"title": null, "legendX": 279, "legendY": 156, "symbolStrokeColor": "#aaaaaa", "padding": 6, "rowPadding": 4}}
   }
  },
  {
   "data": {"name": "a"},
   "mark": {"type": "line", "opacity": 0},
   "encoding": {
    "x": {"field": "x", "type": "quantitative", "scale": {"type": "log", "domain": [1, 1000], "nice": false}, "axis": {"orient": "bottom", "values": [2,3,4,5,6,7,8,9,20,30,40,50,60,70,80,90,200,300,400,500,600,700,800,900], "labels": false, "domain": false, "tickSize": 4, "title": null}},
    "y": {"field": "y", "type": "quantitative", "scale": {"domain": [0, 40], "nice": false}, "axis": {"orient": "left", "values": [2.5, 7.5, 12.5, 17.5, 22.5, 27.5, 32.5, 37.5], "labels": false, "domain": false, "tickSize": 4, "title": null}},
    "detail": {"field": "m", "type": "nominal"}
   }
  }
 ]
},
{
 "width": 454, "height": 371,
 "title": {"text": "(b)", "dx": -77, "offset": 6},
 "resolve": {"axis": {"x": "independent", "y": "independent"}},
 "layer": [
  {
   "data": {"name": "b"},
   "mark": {"type": "line", "strokeWidth": 1.8},
   "encoding": {
    "x": {"field": "x", "type": "quantitative", "scale": {"type": "log", "domain": [1, 1000], "nice": false}, "axis": {"orient": "bottom", "values": [1, 10, 100, 1000], "format": "d", "title": "Pore radius (nm)", "titlePadding": 14}},
    "y": {"field": "y", "type": "quantitative", "scale": {"domain": [0, 900], "nice": false}, "axis": {"orient": "left", "values": [0, 100, 200, 300, 400, 500, 600, 700, 800, 900], "title": "dV/log(dR) (-)", "titleX": -69}},
    "color": {"field": "m", "type": "nominal", "scale": {"domain": ["PC", "LC³-50 (17.0%)", "LC³-50 (50.3%)", "LC³-50 (95.0%)"], "range": ["#b4b4b4", "#8fcb6b", "#55a83a", "#17501a"]}, "legend": {"title": null, "legendX": 234, "legendY": 16}},
    "strokeDash": {"field": "c", "type": "nominal", "scale": {"domain": ["Water", "2 M"], "range": [[1, 0], [5, 3]]}, "legend": {"title": null, "legendX": 277, "legendY": 154, "symbolStrokeColor": "#aaaaaa", "padding": 6, "rowPadding": 4}}
   }
  },
  {
   "data": {"name": "b"},
   "mark": {"type": "line", "opacity": 0},
   "encoding": {
    "x": {"field": "x", "type": "quantitative", "scale": {"type": "log", "domain": [1, 1000], "nice": false}, "axis": {"orient": "bottom", "values": [2,3,4,5,6,7,8,9,20,30,40,50,60,70,80,90,200,300,400,500,600,700,800,900], "labels": false, "domain": false, "tickSize": 4, "title": null}},
    "y": {"field": "y", "type": "quantitative", "scale": {"domain": [0, 900], "nice": false}, "axis": {"orient": "left", "values": [50, 150, 250, 350, 450, 550, 650, 750, 850], "labels": false, "domain": false, "tickSize": 4, "title": null}},
    "detail": {"field": "m", "type": "nominal"}
   }
  }
 ]
}
]
}
